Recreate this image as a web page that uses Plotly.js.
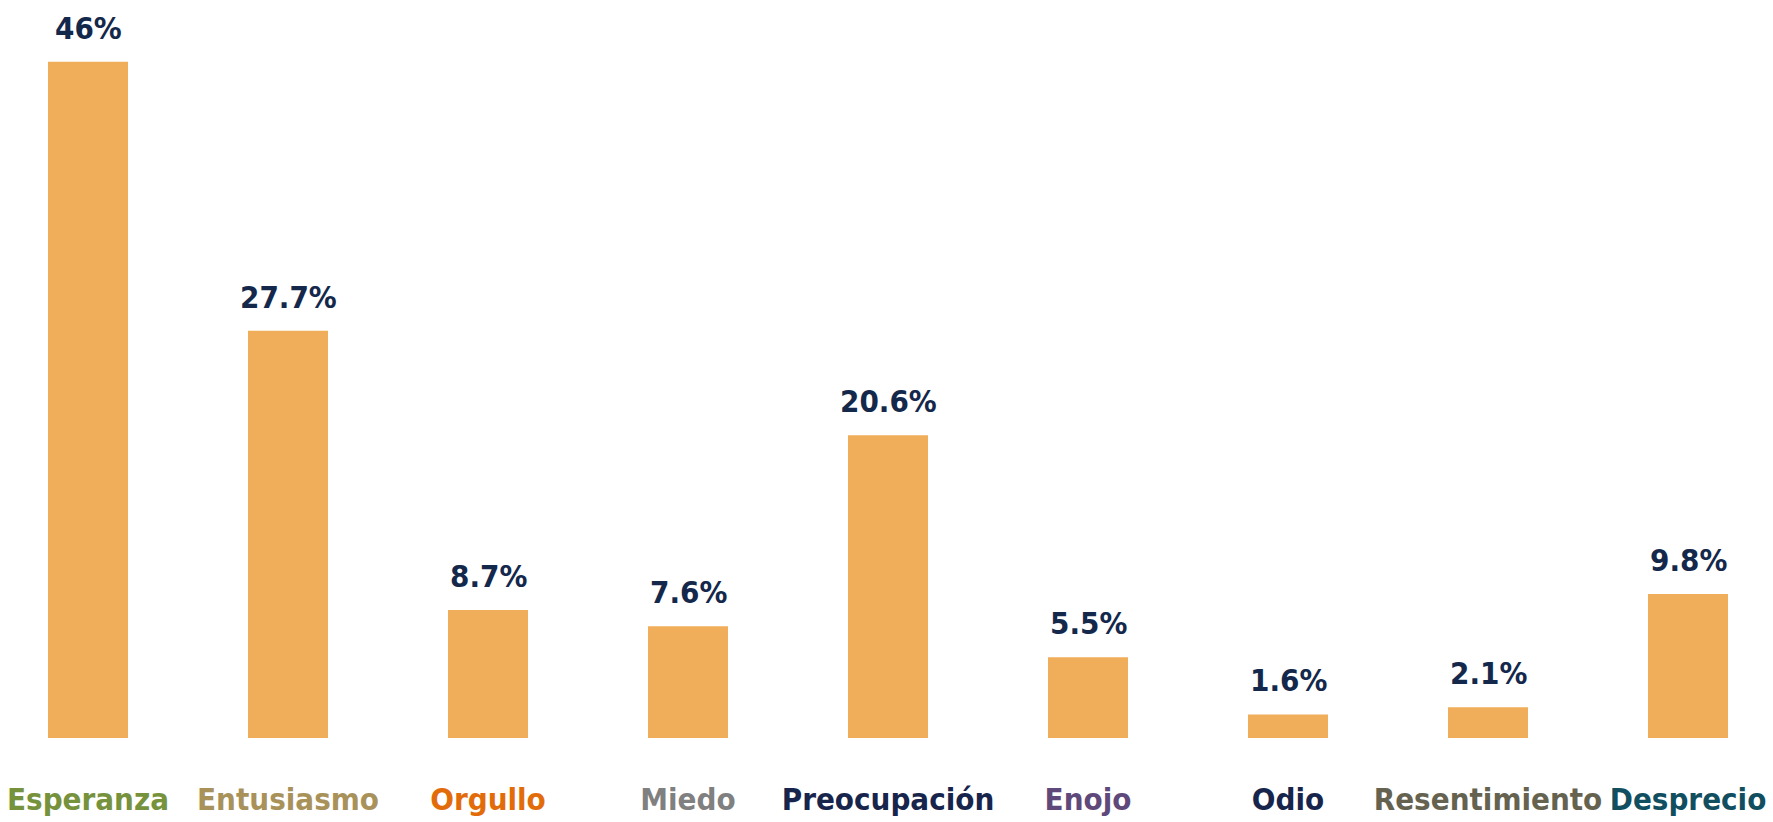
<!DOCTYPE html>
<html>
<head>
<meta charset="utf-8">
<script src="https://cdn.plot.ly/plotly-3.0.1.min.js"></script>
<style>
html,body{margin:0;padding:0;background:#fff;}
#chart{width:1773px;height:822px;}
</style>
</head>
<body>
<div id="chart"></div>
<script>
const categories = ["Esperanza","Entusiasmo","Orgullo","Miedo","Preocupación","Enojo","Odio","Resentimiento","Desprecio"];
const values = [46, 27.7, 8.7, 7.6, 20.6, 5.5, 1.6, 2.1, 9.8];
const labelColors = ["#76923c","#a8925a","#e36c0a","#808080","#17254c","#5f497a","#17254c","#65634f","#104e60"];

const FONT = '"Liberation Sans Narrow", "DejaVu Sans Condensed", "Roboto", sans-serif';
const xs = categories.map((c,i)=>i);

const trace = {
  type: 'bar',
  x: xs,
  y: values,
  width: 0.4,
  marker: {color: '#f0ae5a'},
  hoverinfo: 'none',
  cliponaxis: false
};

const annotations = values.map((v,i)=>({
  x: i, y: v, xref:'x', yref:'y',
  text: '<b>' + v + '%</b>',
  showarrow: false,
  yanchor: 'bottom',
  yshift: 14,
  font: {family: FONT, size: 31, color: '#14284b'}
}));

const layout = {
  width: 1773, height: 822,
  margin: {l:0, r:0, t:0, b:84},
  paper_bgcolor: '#fff', plot_bgcolor: '#fff',
  showlegend: false,
  xaxis: {
    range: [-0.44, 8.425],
    tickmode: 'array',
    tickvals: xs,
    ticktext: categories.map((c,i)=>'<b><span style="color:'+labelColors[i]+'">'+c+'</span></b>'),
    tickfont: {family: FONT, size: 31},
    ticks: '', showgrid: false, zeroline: false, showline: false,
    ticklabelstandoff: 40,
    ticklabeloverflow: 'allow'
  },
  yaxis: {
    range: [0, 50.2], visible: false, showgrid: false, zeroline: false
  },
  annotations: annotations
};

Plotly.newPlot('chart', [trace], layout, {displayModeBar: false, staticPlot: true});
</script>
</body>
</html>
